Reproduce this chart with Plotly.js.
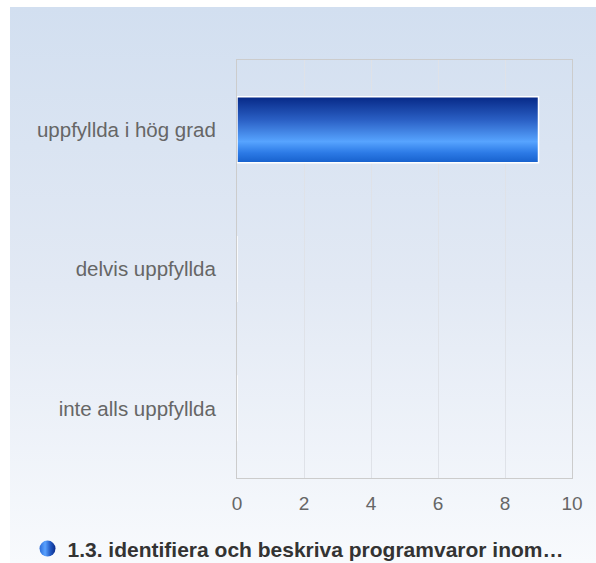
<!DOCTYPE html>
<html>
<head>
<meta charset="utf-8">
<script src="https://cdn.plot.ly/plotly-3.0.1.min.js"></script>
<style>
  html, body { margin: 0; padding: 0; background: #ffffff; overflow: hidden; }
  #wrap { position: relative; width: 596px; height: 563px; overflow: hidden; }
  #bg { position: absolute; left: 10px; top: 7px; right: -20px; bottom: 0;
        background: linear-gradient(to bottom, #d2dff0 0%, #e2e9f4 50%, #f8fafd 100%); }
  #chart { position: absolute; left: 0; top: 0; width: 596px; height: 563px; }
</style>
</head>
<body>
<div id="wrap"><div id="bg"></div><div id="chart"></div></div>
<script>
const categories = ["uppfyllda i hög grad", "delvis uppfyllda", "inte alls uppfyllda"];
const values = [9, 0, 0];
const seriesName = "1.3. identifiera och beskriva programvaror inom…";
const xTickValues = [0, 2, 4, 6, 8, 10];

const trace = {
  type: "bar",
  orientation: "h",
  y: categories,
  x: values,
  name: seriesName,
  marker: { color: "#2c6ad6", line: { color: "#ffffff", width: 1.5 } },
  showlegend: true,
  hoverinfo: "x+y"
};

const layout = {
  width: 596, height: 563,
  margin: { l: 237, r: 24, t: 60, b: 85 },
  paper_bgcolor: "rgba(0,0,0,0)",
  plot_bgcolor: "rgba(0,0,0,0)",
  font: { family: "Arial, 'Liberation Sans', sans-serif", size: 19, color: "#666666" },
  bargap: 0.526,
  xaxis: {
    range: [0, 10], tickvals: xTickValues, ticktext: xTickValues.map(String),
    showgrid: true, gridcolor: "#dfe2e8", gridwidth: 1,
    zeroline: false, showline: true, linecolor: "#cccccc", linewidth: 1, mirror: true,
    ticks: "", tickfont: { size: 19, color: "#666666" }, ticklabelstandoff: 8, fixedrange: true
  },
  yaxis: {
    autorange: "reversed", showgrid: false, zeroline: false,
    showline: true, linecolor: "#cccccc", linewidth: 1, mirror: true,
    ticks: "", tickfont: { size: 20.5, color: "#666666" }, ticklabelstandoff: 16, fixedrange: true
  },
  legend: {
    orientation: "h", xref: "container", yref: "container",
    x: 0.5, xanchor: "center", y: 0.025, yanchor: "middle",
    font: { size: 21, color: "#333333", weight: "bold" },
    bgcolor: "rgba(0,0,0,0)"
  }
};

Plotly.newPlot("chart", [trace], layout, { displayModeBar: false, staticPlot: true }).then(function () {
  const svg = document.querySelector("#chart .main-svg");
  const ns = "http://www.w3.org/2000/svg";
  let defs = svg.querySelector("defs");
  if (!defs) { defs = document.createElementNS(ns, "defs"); svg.insertBefore(defs, svg.firstChild); }
  function grad(id, horiz, stops) {
    const g = document.createElementNS(ns, "linearGradient");
    g.setAttribute("id", id);
    g.setAttribute("x1", "0"); g.setAttribute("y1", "0");
    g.setAttribute("x2", horiz ? "1" : "0"); g.setAttribute("y2", horiz ? "0" : "1");
    stops.forEach(function (s) {
      const st = document.createElementNS(ns, "stop");
      st.setAttribute("offset", s[0]); st.setAttribute("stop-color", s[1]);
      g.appendChild(st);
    });
    defs.appendChild(g);
  }
  grad("barGrad", false, [["0", "#062886"], ["0.35", "#2a5fc4"], ["0.68", "#57a4ff"], ["0.85", "#2c7ae6"], ["1", "#1660cc"]]);
  grad("legGrad", true, [["0", "#2c6cd8"], ["0.35", "#5aa2ff"], ["0.7", "#1f56c0"], ["1", "#0a2a88"]]);
  document.querySelectorAll("#chart .bars .point path").forEach(function (p) {
    p.style.fill = "url(#barGrad)";
  });
  document.querySelectorAll("#chart .legend .legendpoints path").forEach(function (p) {
    p.setAttribute("d", "M8,0A8,8 0 1,1 -8,0A8,8 0 1,1 8,0Z");
    p.style.fill = "url(#legGrad)";
    p.style.stroke = "none";
  });
});
</script>
</body>
</html>
